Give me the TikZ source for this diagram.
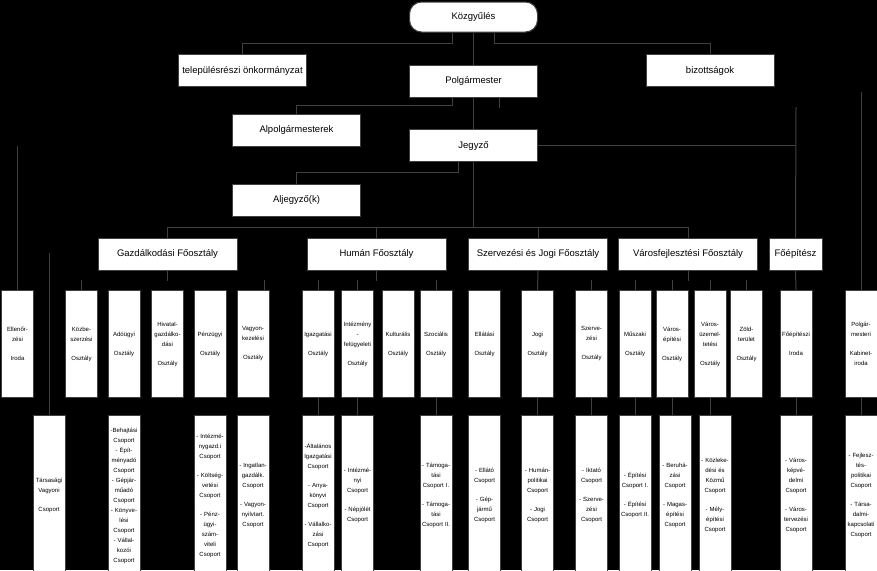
\documentclass[tikz,border=0pt]{standalone}
\usepackage{fontspec}
\setmainfont{Liberation Sans}
\usetikzlibrary{positioning,calc}
\definecolor{linegray}{RGB}{64,64,64}

\begin{document}
\begin{tikzpicture}[x=1pt, y=-1pt,
    box/.style={rectangle, draw=linegray, fill=white, line width=1pt, inner sep=1pt},
    toplevel/.style={box, minimum width=128pt, minimum height=32pt, font=\fontsize{9.5}{11}\selectfont},
    foosztaly/.style={box, minimum width=139pt, minimum height=32pt, font=\fontsize{9.5}{11}\selectfont},
    osztaly/.style={box, text width=30pt, minimum height=107pt, align=center, font=\fontsize{6}{10}\selectfont},
    csoport/.style={box, anchor=north, text width=30pt, minimum height=160pt, align=center, font=\fontsize{6}{10}\selectfont},
    conn/.style={draw=linegray, line width=1pt}
]

% Background
\fill[black] (0,0) rectangle (877,570);
\useasboundingbox (0,0) rectangle (877,570);

% Leadership
\node[toplevel, rounded corners=12pt, minimum height=30pt] (kgy) at (473.5,17) {Közgyűlés};
\node[toplevel] (tel) at (242.5,70.5) {településrészi önkormányzat};
\node[toplevel] (pm) at (473.5,81) {Polgármester};
\node[toplevel] (biz) at (710,70.5) {bizottságok};
\node[toplevel] (alp) at (296.5,130) {Alpolgármesterek};
\node[toplevel] (jegy) at (473.5,145.5) {Jegyző};
\node[toplevel] (alj) at (296.5,200) {Aljegyző(k)};

% Main departments
\node[foosztaly] (gazd) at (167.5,254) {Gazdálkodási Főosztály};
\node[foosztaly] (hum) at (376.5,254) {Humán Főosztály};
\node[foosztaly] (szerv) at (538,254) {Szervezési és Jogi Főosztály};
\node[foosztaly] (vfejl) at (688,254) {Városfejlesztési Főosztály};
\node[foosztaly, minimum width=53pt] (foep) at (795.5,254) {Főépítész};

% Departments
\node[osztaly] (ell) at (17.5,344) {Ellenőr-\\zési\\[9pt]Iroda};
\node[osztaly] (kozb) at (81.5,344) {Közbe-\\szerzési\\[9pt]Osztály};
\node[osztaly] (ado) at (124,344) {Adóügyi\\[9pt]Osztály};
\node[osztaly] (hiv) at (167.5,344) {Hivatal-\\gazdálko-\\dási\\[9pt]Osztály};
\node[osztaly] (penz) at (210,344) {Pénzügyi\\[9pt]Osztály};
\node[osztaly] (vagy) at (253,344) {Vagyon-\\kezelési\\[9pt]Osztály};
\node[osztaly] (igaz) at (318,344) {Igazgatási\\[9pt]Osztály};
\node[osztaly] (intf) at (357.5,344) {Intézmény\\-\\felügyeleti\\[9pt]Osztály};
\node[osztaly] (kult) at (398,344) {Kulturális\\[9pt]Osztály};
\node[osztaly] (szoc) at (436,344) {Szociális\\[9pt]Osztály};
\node[osztaly] (ellat) at (484.5,344) {Ellátási\\[9pt]Osztály};
\node[osztaly] (jogi) at (537.5,344) {Jogi\\[9pt]Osztály};
\node[osztaly] (szo) at (591.5,344) {Szerve-\\zési\\[9pt]Osztály};
\node[osztaly] (musz) at (635,344) {Műszaki\\[9pt]Osztály};
\node[osztaly] (vep) at (672,344) {Város-\\építési\\[9pt]Osztály};
\node[osztaly] (vuz) at (710,344) {Város-\\üzemel-\\tetési\\[9pt]Osztály};
\node[osztaly] (zold) at (746.5,344) {Zöld-\\terület\\[9pt]Osztály};
\node[osztaly] (foepi) at (796,344) {Főépítészi\\[9pt]Iroda};
\node[osztaly] (kab) at (861,344) {Polgár-\\mesteri\\[9pt]Kabinet-\\iroda};

% Groups
\node[csoport] (tarsgr) at (49,415) {Társasági\\Vagyoni\\[9pt]Csoport};
\node[csoport] (adogr) at (124,415) {-Behajtási\\Csoport\\- Épít-\\ményadó\\Csoport\\- Gépjár-\\műadó\\Csoport\\- Könyve-\\lési\\Csoport\\- Vállal-\\kozói\\Csoport};
\node[csoport] (penzgr) at (210,415) {- Intézmé-\\nygazd.i\\Csoport\\[9pt]- Költség-\\vetési\\Csoport\\[9pt]- Pénz-\\ügyi-\\szám-\\viteli\\Csoport};
\node[csoport] (vagygr) at (253,415) {- Ingatlan-\\gazdálk.\\Csoport\\[9pt]- Vagyon-\\nyilvtart.\\Csoport};
\node[csoport] (igazgr) at (318,415) {-Általános\\Igazgatási\\Csoport\\[9pt]- Anya-\\könyvi\\Csoport\\[9pt]- Vállalko-\\zási\\Csoport};
\node[csoport] (intfgr) at (357.5,415) {- Intézmé-\\nyi\\Csoport\\[9pt]- Népjólét\\Csoport};
\node[csoport] (szocgr) at (436,415) {- Támoga-\\tási\\Csoport I.\\[9pt]- Támoga-\\tási\\Csoport II.};
\node[csoport] (ellatgr) at (484.5,415) {- Ellátó\\Csoport\\[9pt]- Gép-\\jármű\\Csoport};
\node[csoport] (jogigr) at (537.5,415) {- Humán-\\politikai\\Csoport\\[9pt]- Jogi\\Csoport};
\node[csoport] (szogr) at (591.5,415) {- Iktató\\Csoport\\[9pt]- Szerve-\\zési\\Csoport};
\node[csoport] (muszgr) at (635,415) {- Építési\\Csoport I.\\[9pt]- Építési\\Csoport II.};
\node[csoport] (vepgr) at (675,415) {- Beruhá-\\zási\\Csoport\\[9pt]- Magas-\\építési\\Csoport};
\node[csoport] (vuzgr) at (715,415) {- Közleke-\\dési és\\Közmű\\Csoport\\[9pt]- Mély-\\építési\\Csoport};
\node[csoport] (foepigr) at (796,415) {- Város-\\képvé-\\delmi\\Csoport\\[9pt]- Város-\\tervezési\\Csoport};
\node[csoport] (kabgr) at (861,415) {- Fejlesz-\\tés-\\politikai\\Csoport\\[9pt]- Társa-\\dalmi-\\kapcsolati\\Csoport};

% Free line ends
\coordinate (fobus) at (473.5,227);
\coordinate (foeptop) at (796,107);
\coordinate (kabtop) at (861,92);
\coordinate (elltop) at (17.5,146);
\coordinate (tarstop) at (49,253);

% Leadership connectors
\draw[conn] ([xshift=-21pt]kgy.south) |- ([yshift=11pt]tel.north) -- (tel.north);
\draw[conn] (kgy) -- (pm);
\draw[conn] ([xshift=21pt]kgy.south) |- ([yshift=11pt]biz.north) -- (biz.north);
\draw[conn] ([xshift=-21pt]pm.south) |- ([yshift=8pt]alp.north) -- (alp.north);
\draw[conn] (pm) -- (jegy);
\draw[conn] ([xshift=26pt]pm.south) -- ++(0,10);
\draw[conn] ([xshift=-15pt]jegy.south) |- ([yshift=11pt]alj.north) -- (alj.north);
\draw[conn] (jegy.east) -- (jegy.east -| foeptop);
\draw[conn] (foeptop) -- (foep.north);
\draw[conn] (kabtop) -- (kab.north);
\draw[conn] (elltop) -- (ell.north);
\draw[conn] (tarstop) -- (tarsgr.north);

% Main department connectors
\draw[conn] (jegy.south) -- (fobus);
\draw[conn] (gazd.north) |- (fobus);
\draw[conn] (vfejl.north) |- (fobus);
\draw[conn] (hum.north) -- (hum.north |- fobus);
\draw[conn] (szerv.north) -- (szerv.north |- fobus);

% Department connectors
\draw[conn] (gazd.south) -- ++(0,10);
\draw[conn] (hum.south) -- ++(0,10);
\draw[conn] (vfejl.south) -- ++(0,10);
\draw[conn] (szerv.south) -- (jogi.north);
\draw[conn] (foep.south) -- (foepi.north);
\foreach \d in {kozb,igaz,intf,szoc,szo,musz,vep,vuz,zold}
    \draw[conn] (\d.north) -- ++(0,-10);
\draw[conn] ([xshift=11pt]vagy.north) -- ++(0,-10);

% Group connectors
\foreach \d in {igaz,intf,szoc,jogi,szo,musz,vep,vuz,foepi,kab}
    \draw[conn] (\d.south) -- (\d.south |- \d gr.north);

\end{tikzpicture}
\end{document}
